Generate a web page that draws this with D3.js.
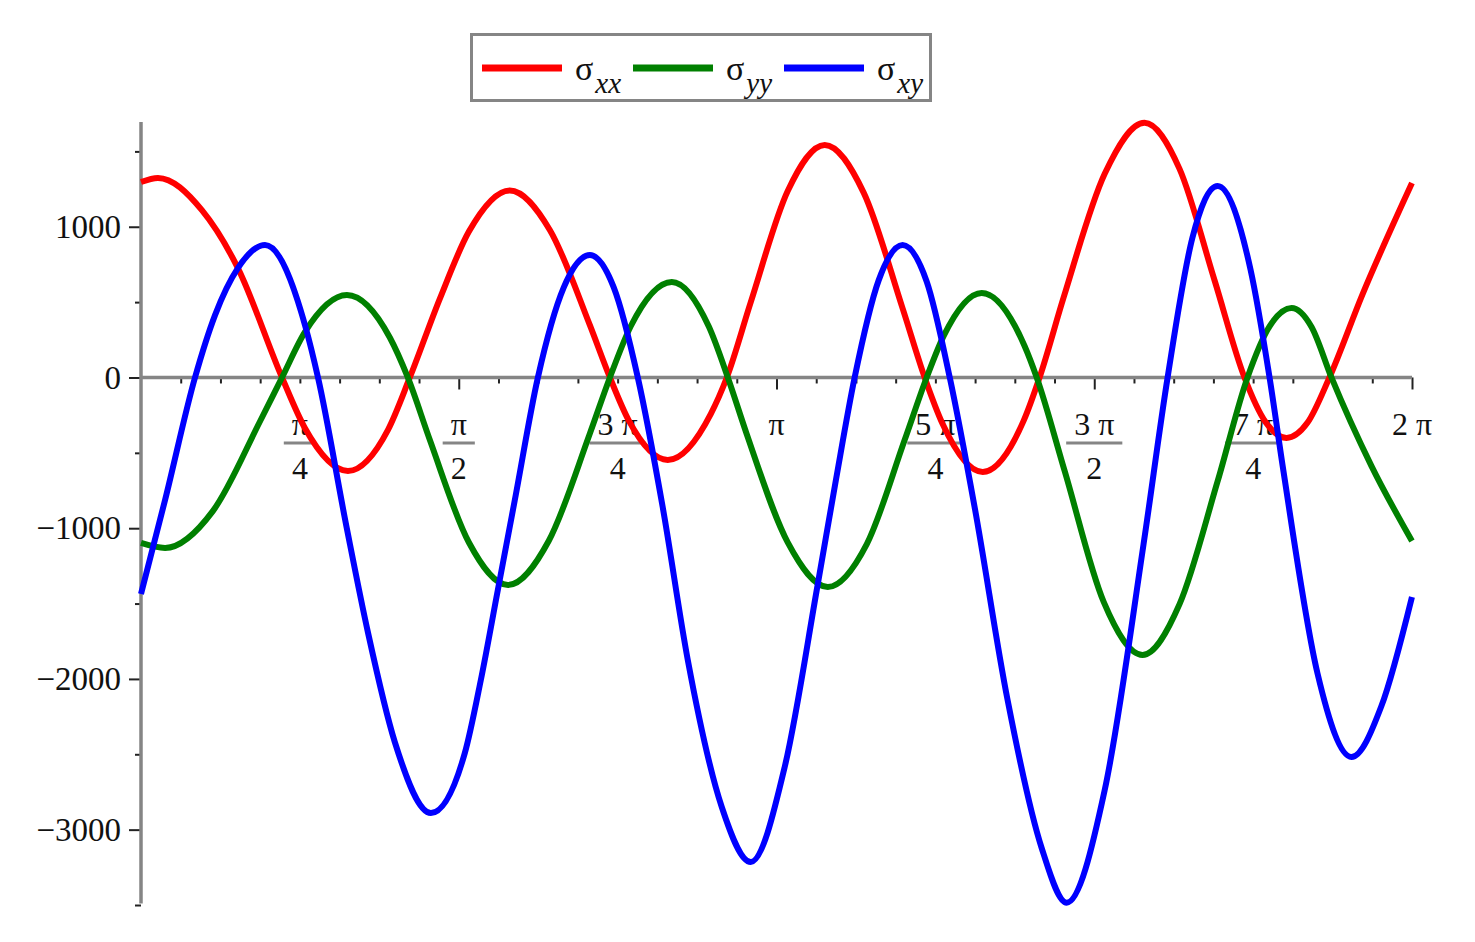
<!DOCTYPE html>
<html>
<head>
<meta charset="utf-8">
<script src="https://cdn.jsdelivr.net/npm/d3@7"></script>
<style>
  html, body { margin: 0; padding: 0; background: #fff; }
  svg { display: block; }
  text { font-family: "Liberation Serif", "DejaVu Serif", serif; fill: #111; }
</style>
</head>
<body>
<svg id="chart" width="1475" height="942"></svg>
<script>
// ---- data (x in radians) ----
const seriesNames = ["xx", "yy", "xy"];
const seriesColors = ["#ff0000", "#008000", "#0000ff"];

const redT = [0, 0.084, 0.301, 0.479, 0.697, 0.810, 1.023, 1.221, 1.329, 1.478, 1.621, 1.823, 2.021, 2.219, 2.318, 2.411, 2.604, 2.817, 2.896, 3.014, 3.197, 3.380, 3.573, 3.765, 3.874, 3.963, 4.161, 4.363, 4.442, 4.561, 4.764, 4.961, 5.134, 5.307, 5.455, 5.559, 5.663, 5.767, 5.875, 6.038, 6.283];
const redV = [1297, 1324, 1110, 726, 0, -335, -620, -347, 0, 525, 968, 1241, 979, 347, 0, -285, -547, -241, 0, 498, 1237, 1543, 1225, 458, 0, -309, -627, -288, 0, 531, 1351, 1690, 1384, 645, 0, -295, -401, -299, 0, 550, 1290];

const greenT = [0, 0.119, 0.356, 0.588, 0.697, 0.810, 1.018, 1.230, 1.319, 1.428, 1.621, 1.814, 2.016, 2.219, 2.318, 2.421, 2.624, 2.807, 2.901, 2.995, 3.197, 3.395, 3.588, 3.775, 3.884, 3.968, 4.156, 4.368, 4.428, 4.566, 4.759, 4.951, 5.134, 5.322, 5.470, 5.579, 5.688, 5.786, 5.885, 6.083, 6.283];
const greenV = [-1098, -1131, -885, -292, 0, 301, 547, 265, 0, -415, -1095, -1377, -1083, -372, 0, 340, 634, 338, 0, -378, -1094, -1390, -1105, -415, 0, 276, 561, 209, 0, -620, -1489, -1841, -1504, -690, 0, 339, 461, 337, 0, -588, -1085];

const blueT = [0, 0.119, 0.267, 0.366, 0.479, 0.613, 0.815, 0.875, 1.018, 1.122, 1.255, 1.433, 1.601, 1.680, 1.764, 1.848, 1.962, 2.090, 2.219, 2.337, 2.456, 2.579, 2.703, 2.871, 3.014, 3.182, 3.345, 3.434, 3.528, 3.647, 3.765, 3.884, 3.998, 4.121, 4.284, 4.452, 4.576, 4.764, 4.956, 5.075, 5.198, 5.322, 5.485, 5.579, 5.648, 5.816, 5.984, 6.132, 6.283];
const blueV = [-1436, -813, 0, 414, 726, 879, 327, 0, -1005, -1692, -2420, -2890, -2491, -2007, -1410, -813, 0, 598, 813, 598, 0, -860, -1874, -2850, -3215, -2585, -1376, -690, 0, 646, 879, 637, 0, -860, -2140, -3120, -3485, -2738, -1107, 0, 929, 1271, 716, 0, -624, -1963, -2518, -2180, -1456];

const yMajorTicks = [-3000, -2000, -1000, 0, 1000];
const yMinorTicks = [-3500, -2500, -1500, -500, 500, 1500];
// x tick labels: multiples of pi/4 -> [numerator, denominator]
const xLabelK = [1, 2, 3, 4, 5, 6, 7, 8];
const xLabelText = [["π", "4"], ["π", "2"], ["3 π", "4"], ["π", null], ["5 π", "4"], ["3 π", "2"], ["7 π", "4"], ["2 π", null]];

// ---- drawing ----
const svg = d3.select("#chart");
svg.append("rect").attr("width", 1475).attr("height", 942).attr("fill", "#fff");

const x = d3.scaleLinear().domain([0, 2 * Math.PI]).range([141, 1412]);
const y = d3.scaleLinear().domain([-3490, 1695]).range([903.5, 122]);

const axisGrey = "#858585";

// Y axis
const yAxisMajor = d3.axisLeft(y).tickValues(yMajorTicks).tickSize(12).tickPadding(8)
  .tickFormat(d3.format("d"));
const gy = svg.append("g").attr("transform", `translate(${x(0)},0)`).call(yAxisMajor);
gy.select(".domain").remove();
gy.selectAll(".tick line").attr("stroke", "#222").attr("stroke-width", 2);
gy.selectAll(".tick text").style("font-size", "33px").attr("fill", "#111")
  .style("font-family", "'Liberation Serif', serif");

const gyMinor = svg.append("g").attr("transform", `translate(${x(0)},0)`)
  .call(d3.axisLeft(y).tickValues(yMinorTicks).tickSize(6).tickFormat(""));
gyMinor.select(".domain").remove();
gyMinor.selectAll(".tick line").attr("stroke", "#222").attr("stroke-width", 2);

svg.append("line").attr("x1", x(0)).attr("x2", x(0)).attr("y1", y.range()[1]).attr("y2", y.range()[0])
  .attr("stroke", axisGrey).attr("stroke-width", 3.5);

// X axis
const minorX = d3.range(1, 33).map(i => i * Math.PI / 16).filter((d, i) => (i + 1) % 8 !== 0);
const majorX = [1, 2, 3, 4].map(i => i * Math.PI / 2);
const gxMinor = svg.append("g").attr("transform", `translate(0,${y(0)})`)
  .call(d3.axisBottom(x).tickValues(minorX).tickSize(6).tickFormat(""));
gxMinor.select(".domain").remove();
gxMinor.selectAll(".tick line").attr("stroke", "#222").attr("stroke-width", 2);
const gxMajor = svg.append("g").attr("transform", `translate(0,${y(0)})`)
  .call(d3.axisBottom(x).tickValues(majorX).tickSize(12).tickFormat(""));
gxMajor.select(".domain").remove();
gxMajor.selectAll(".tick line").attr("stroke", "#222").attr("stroke-width", 2);

svg.append("line").attr("x1", x(0)).attr("x2", x(2 * Math.PI)).attr("y1", y(0)).attr("y2", y(0))
  .attr("stroke", axisGrey).attr("stroke-width", 3.5);

// X labels (fractions)
const xl = svg.append("g");
xLabelK.forEach((k, i) => {
  const cx = x(k * Math.PI / 4);
  const [num, den] = xLabelText[i];
  const t = xl.append("text").attr("x", cx).attr("y", 435).attr("text-anchor", "middle")
    .style("font-size", "32px").text(num);
  if (den) {
    const w = t.node().getComputedTextLength();
    xl.append("line").attr("x1", cx - w / 2 - 8).attr("x2", cx + w / 2 + 8)
      .attr("y1", 443).attr("y2", 443).attr("stroke", axisGrey).attr("stroke-width", 3);
    xl.append("text").attr("x", cx).attr("y", 479).attr("text-anchor", "middle")
      .style("font-size", "32px").text(den);
  }
});

// Curves
const series = [
  { t: redT, v: redV },
  { t: greenT, v: greenV },
  { t: blueT, v: blueV }
];
const line = d3.line().x(d => x(d[0])).y(d => y(d[1])).curve(d3.curveMonotoneX);
series.forEach((s, i) => {
  const pts = s.t.map((t, j) => [t, s.v[j]]);
  svg.append("path").datum(pts).attr("d", line).attr("fill", "none")
    .attr("stroke", seriesColors[i]).attr("stroke-width", 6)
    .attr("stroke-linejoin", "round").attr("stroke-linecap", "butt");
});

// Legend
const lg = svg.append("g");
lg.append("rect").attr("x", 471.5).attr("y", 34.5).attr("width", 459).attr("height", 66)
  .attr("fill", "#fff").attr("stroke", axisGrey).attr("stroke-width", 3);
const legendX = [482, 633, 784];
seriesNames.forEach((name, i) => {
  const x0 = legendX[i];
  lg.append("line").attr("x1", x0).attr("x2", x0 + 80).attr("y1", 68).attr("y2", 68)
    .attr("stroke", seriesColors[i]).attr("stroke-width", 7);
  const tx = lg.append("text").attr("x", x0 + 93).attr("y", 80).style("font-size", "34px");
  tx.append("tspan").text("σ");
  tx.append("tspan").attr("dx", 2).attr("dy", 13).style("font-style", "italic").style("font-size", "29px").text(name);
});
</script>
</body>
</html>
